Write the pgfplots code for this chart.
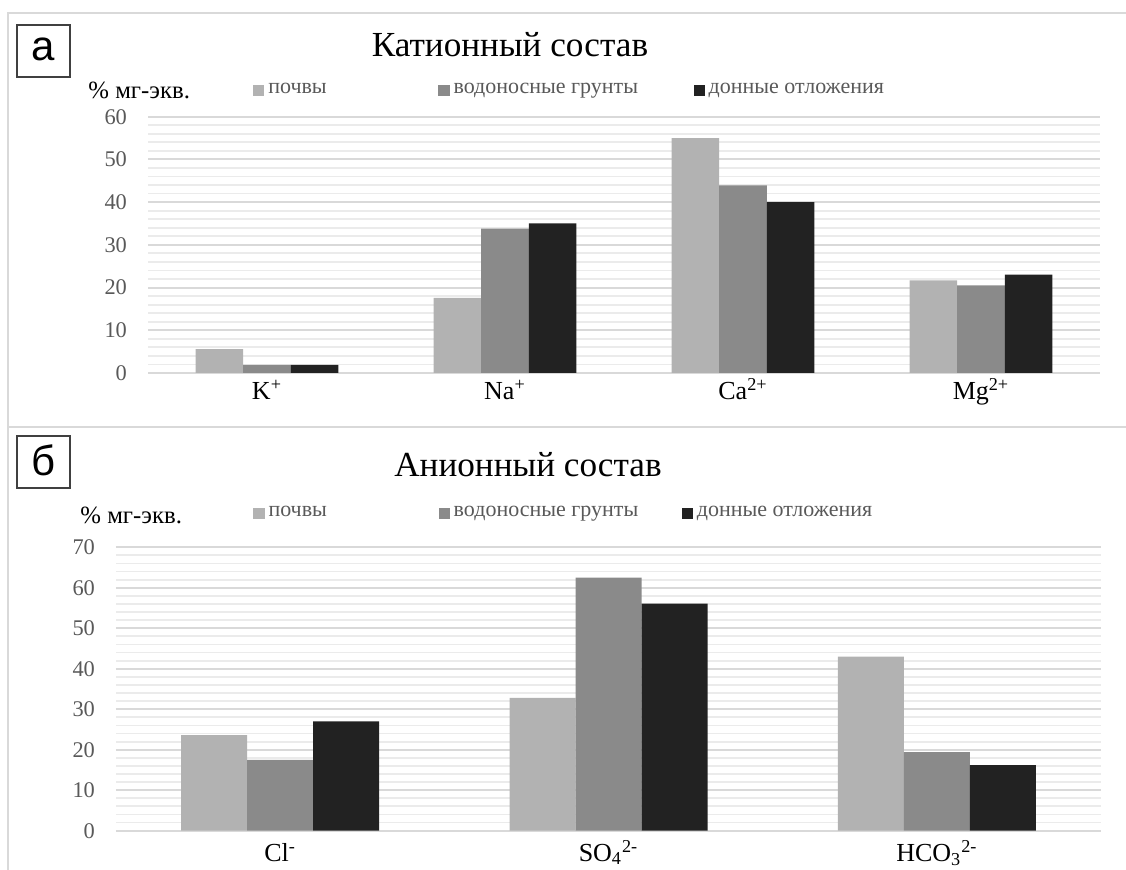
\documentclass[border=0pt]{standalone}
\usepackage{pgfplots}
\pgfplotsset{compat=1.18}
\usepackage{fontspec}
\setmainfont{Liberation Serif}
\newfontfamily\sansf{Liberation Sans}
\definecolor{cA}{HTML}{B2B2B2}
\definecolor{cB}{HTML}{8A8A8A}
\definecolor{cC}{HTML}{222222}
\definecolor{gmaj}{HTML}{D9D9D9}
\definecolor{gmin}{HTML}{EBEBEB}
\definecolor{tickc}{HTML}{595959}
\definecolor{frame}{HTML}{D9D9D9}
\pgfplotsset{
  mybars/.style={
    scale only axis, enlargelimits=false, ybar=0pt,
    ymin=0, minor y tick num=4,
    ymajorgrids, yminorgrids,
    major grid style={color=gmaj, line width=1pt},
    minor grid style={color=gmin, line width=0.9pt},
    axis line style={draw=none}, tick style={draw=none},
    yticklabel style={font=\fontsize{11.2}{12}\selectfont, text=tickc, xshift=-7pt},
    /pgf/number format/assume math mode=true,
    legend columns=-1,
    legend image code/.code={\fill[##1,draw=none] (0pt,-2.8pt) rectangle (5.6pt,2.8pt);},
  },
}
\begin{document}
\begin{tikzpicture}[x=0.5pt,y=0.5pt]
\useasboundingbox (0,0) rectangle (1126,870);
% frame
\draw[frame, line width=1pt] (1126,857) -- (8,857) -- (8,0);
\draw[frame, line width=1.2pt] (8,443) -- (1126,443);
% panel letters
\draw[black!75, line width=0.9pt] (17,793) rectangle (70,845);
\node[font=\sansf\fontsize{21}{22}\selectfont] at (43.5,821) {а};
\draw[black!75, line width=0.9pt] (17,382) rectangle (70,434);
\node[font=\sansf\fontsize{21}{22}\selectfont] at (43.5,410) {б};
% titles
\node[font=\fontsize{17.6}{19}\selectfont] at (510,825) {Катионный состав};
\node[font=\fontsize{17.6}{19}\selectfont] at (528,405) {Анионный состав};
\node[font=\fontsize{12.4}{13}\selectfont, anchor=west, inner sep=0pt] at (88,780) {\% мг-экв.};
\node[font=\fontsize{12.4}{13}\selectfont, anchor=west, inner sep=0pt] at (80,355) {\% мг-экв.};

\begin{axis}[mybars, at={(74pt,248.5pt)}, anchor=south west,
  width=476pt, height=128.15pt, ymax=60, ytick={0,10,...,60},
  xmin=-0.5, xmax=3.5, bar width=23.8pt,
  xtick={0,1,2,3},
  xticklabel style={font=\fontsize{13}{14}\selectfont, text=black, anchor=base, yshift=-9pt},
  xticklabels={K\textsuperscript{+}, Na\textsuperscript{+}, Ca\textsuperscript{2+}, Mg\textsuperscript{2+}},
  legend style={draw=none, fill=none, inner sep=0pt, at={(0.110,1.103)}, anchor=west,
    font=\fontsize{11}{12}\selectfont, text=tickc,
    /tikz/every even column/.append style={column sep=0pt}},
]
\addplot[fill=cA, draw=none] coordinates {(0,5.6) (1,17.6) (2,55.0) (3,21.7)};
\addplot[fill=cB, draw=none] coordinates {(0,1.9) (1,33.8) (2,43.9) (3,20.5)};
\addplot[fill=cC, draw=none] coordinates {(0,1.9) (1,35.0) (2,40.0) (3,23.0)};
\addlegendentry{\makebox[83pt][l]{почвы}}
\addlegendentry{\makebox[118pt][l]{водоносные грунты}}
\addlegendentry{донные отложения}
\end{axis}

\begin{axis}[mybars, at={(58pt,19.65pt)}, anchor=south west,
  width=492.5pt, height=141.7pt, ymax=70, ytick={0,10,...,70},
  xmin=-0.5, xmax=2.5, bar width=33pt,
  xtick={0,1,2},
  xticklabel style={font=\fontsize{13}{14}\selectfont, text=black, anchor=base, yshift=-11pt},
  xticklabels={Cl\textsuperscript{-}, SO\textsubscript{4}\textsuperscript{2-}, HCO\textsubscript{3}\textsuperscript{2-}},
  legend style={draw=none, fill=none, inner sep=0pt, at={(0.139,1.12)}, anchor=west,
    font=\fontsize{11}{12}\selectfont, text=tickc,
    /tikz/every even column/.append style={column sep=0pt}},
]
\addplot[fill=cA, draw=none] coordinates {(0,23.6) (1,32.8) (2,43.0)};
\addplot[fill=cB, draw=none] coordinates {(0,17.5) (1,62.5) (2,19.4)};
\addplot[fill=cC, draw=none] coordinates {(0,27.0) (1,56.1) (2,16.2)};
\addlegendentry{\makebox[83pt][l]{почвы}}
\addlegendentry{\makebox[112pt][l]{водоносные грунты}}
\addlegendentry{донные отложения}
\end{axis}
\end{tikzpicture}
\end{document}
